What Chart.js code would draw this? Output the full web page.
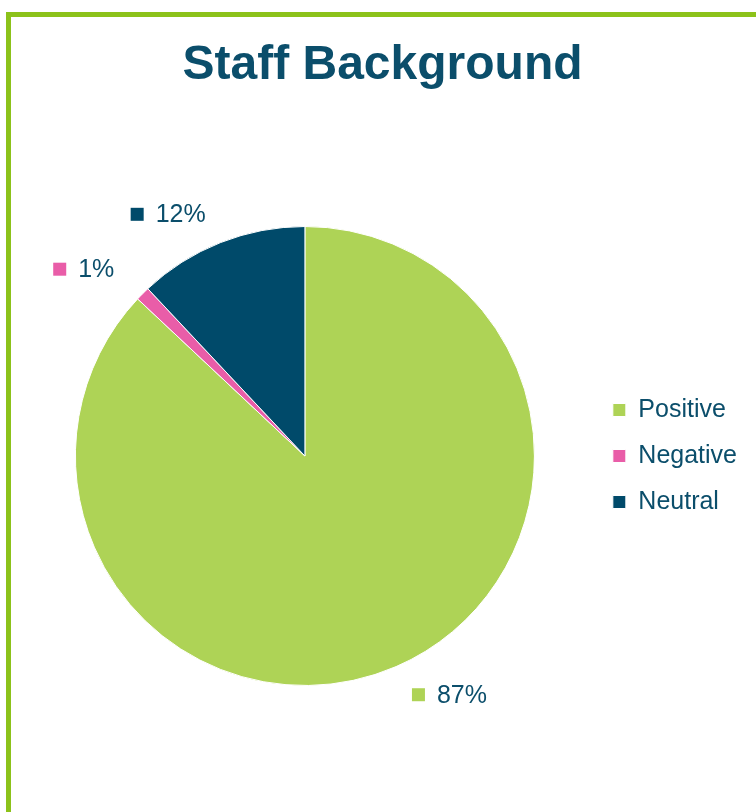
<!DOCTYPE html>
<html>
<head>
<meta charset="utf-8">
<script src="https://cdn.jsdelivr.net/npm/chart.js@4/dist/chart.umd.min.js"></script>
<style>
html,body{margin:0;padding:0;background:#fff;overflow:hidden;width:756px;height:812px}
#frame{position:absolute;left:6px;top:12px;width:800px;height:850px;border:5px solid #8CC21A;box-sizing:border-box}
#c{position:absolute;left:0;top:0}
</style>
</head>
<body>
<div id="frame"></div>
<canvas id="c" width="756" height="812"></canvas>
<script>
// ===== data =====
const LABELS=['Positive','Negative','Neutral'];
const VALUES=[87,1,12];
const COLORS=['#AED356','#E95DA8','#004A6A'];
const TEXT='#0B4E6B';
const FONT='Arial,"Liberation Sans",sans-serif';

// outside-end value labels with a coloured key square, Excel style
const pctLabels={
  id:'pctLabels',
  afterDatasetsDraw(chart,args,opts){
    const ctx=chart.ctx,meta=chart.getDatasetMeta(0);
    ctx.save();ctx.font=opts.size+'px '+FONT;ctx.textBaseline='middle';ctx.textAlign='left';
    meta.data.forEach((arc,i)=>{
      const {x,y,startAngle,endAngle,outerRadius}=arc.getProps(['x','y','startAngle','endAngle','outerRadius'],true);
      const mid=(startAngle+endAngle)/2,dx=Math.cos(mid),dy=Math.sin(mid);
      const px=x+dx*(outerRadius+opts.gapX),py=y+dy*(outerRadius+opts.gapY);
      const txt=VALUES[i]+'%',tw=ctx.measureText(txt).width,bw=25+tw,bh=opts.size;
      const left=dx<0?px-bw:px,top=dy<0?py-bh:py;
      ctx.fillStyle=COLORS[i];ctx.fillRect(left,top+(bh-13)/2,13,13);
      ctx.fillStyle=TEXT;ctx.fillText(txt,left+25,top+bh/2+1);
    });
    ctx.restore();
  }
};

new Chart(document.getElementById('c'),{
  type:'pie',
  data:{labels:LABELS,datasets:[{data:VALUES,backgroundColor:COLORS,borderColor:'#fff',borderWidth:1}]},
  options:{responsive:false,animation:false,
    layout:{padding:{left:18,right:9,top:0,bottom:126}},
    plugins:{
      title:{display:true,text:'Staff Background',color:TEXT,font:{family:FONT,size:48,weight:'bold'},padding:{top:37,bottom:131.4}},
      legend:{position:'right',fullSize:false,labels:{color:TEXT,font:{family:FONT,size:25},boxWidth:13,boxHeight:13,padding:21}},
      tooltip:{enabled:false},
      pctLabels:{size:25,gapX:40,gapY:17}
    }
  },
  plugins:[pctLabels]
});
</script>
</body>
</html>
